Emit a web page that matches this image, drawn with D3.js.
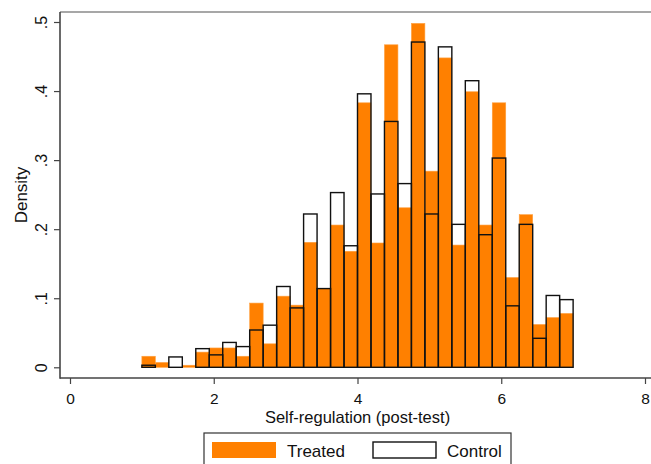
<!DOCTYPE html>
<html>
<head>
<meta charset="utf-8">
<script src="https://cdn.jsdelivr.net/npm/d3@7"></script>
<style>
  html, body { margin: 0; padding: 0; background: #fff; }
  svg { display: block; font-family: Arial, "Liberation Sans", sans-serif; }
</style>
</head>
<body>
<svg id="chart" width="651" height="464"></svg>
<script>
// ---- data (density per bin; 32 bins from 1 to 7) ----
const binStart = 1;
const binWidth = 0.1875;
const treated = [0.016, 0.007, 0, 0.003, 0.022, 0.028, 0.028, 0.016,
                 0.093, 0.034, 0.103, 0.090, 0.181, 0.114, 0.206, 0.168,
                 0.383, 0.180, 0.467, 0.231, 0.498, 0.284, 0.448, 0.177,
                 0.399, 0.206, 0.383, 0.130, 0.221, 0.062, 0.072, 0.078];
const control = [0.003, 0, 0.015, 0, 0.027, 0.018, 0.036, 0.030,
                 0.054, 0.061, 0.117, 0.086, 0.222, 0.114, 0.253, 0.176,
                 0.396, 0.251, 0.356, 0.266, 0.471, 0.222, 0.464, 0.207,
                 0.415, 0.192, 0.303, 0.089, 0.207, 0.042, 0.104, 0.098];
const xTicks = [0, 2, 4, 6, 8];
const yTicks = [0, 0.1, 0.2, 0.3, 0.4, 0.5];
const yTickLabels = ["0", ".1", ".2", ".3", ".4", ".5"];
const xTitle = "Self-regulation (post-test)";
const yTitle = "Density";
const legendLabels = ["Treated", "Control"];

const orange = "#ff8000";
const svg = d3.select("#chart");
const x = d3.scaleLinear().domain([0, 8]).range([70, 645]);
const y = d3.scaleLinear().domain([0, 0.5]).range([367.3, 22]);
const axisLeftX = 60, axisBottomY = 378, plotTop = 12, plotRight = 651;

svg.append("rect").attr("width", 651).attr("height", 464).attr("fill", "#fff");

// top border of plot region
svg.append("line").attr("x1", axisLeftX).attr("x2", plotRight)
  .attr("y1", plotTop).attr("y2", plotTop)
  .attr("stroke", "#8a8a8a").attr("stroke-width", 1.6);

const binsT = treated.map((v, i) => ({ x0: binStart + i * binWidth, x1: binStart + (i + 1) * binWidth, v }));
const binsC = control.map((v, i) => ({ x0: binStart + i * binWidth, x1: binStart + (i + 1) * binWidth, v }));

// treated bars
svg.append("g").selectAll("rect").data(binsT.filter(d => d.v > 0)).join("rect")
  .attr("x", d => x(d.x0))
  .attr("width", d => x(d.x1) - x(d.x0))
  .attr("y", d => y(d.v))
  .attr("height", d => y(0) - y(d.v))
  .attr("fill", orange)
  .attr("stroke", "#ffa040").attr("stroke-width", 0.6);

// control outlines
svg.append("g").selectAll("rect").data(binsC.filter(d => d.v > 0)).join("rect")
  .attr("x", d => x(d.x0))
  .attr("width", d => x(d.x1) - x(d.x0))
  .attr("y", d => y(d.v))
  .attr("height", d => y(0) - y(d.v))
  .attr("fill", "none")
  .attr("stroke", "#111").attr("stroke-width", 1.4);

// axes
const gx = svg.append("g").attr("transform", `translate(0,${axisBottomY})`)
  .call(d3.axisBottom(x).tickValues(xTicks).tickSize(6).tickFormat(d3.format("d")));
gx.select(".domain").remove();
gx.selectAll(".tick line").attr("stroke", "#444").attr("stroke-width", 1.2);
gx.selectAll(".tick text").attr("font-size", 15.5).attr("fill", "#111")
  .attr("dy", null).attr("y", 26);

const gy = svg.append("g").attr("transform", `translate(${axisLeftX},0)`)
  .call(d3.axisLeft(y).tickValues(yTicks).tickSize(6).tickFormat((d, i) => yTickLabels[i]));
gy.select(".domain").remove();
gy.selectAll(".tick line").attr("stroke", "#444").attr("stroke-width", 1.2);
gy.selectAll(".tick text")
  .attr("x", null).attr("dy", null)
  .attr("font-size", 16).attr("fill", "#111")
  .attr("text-anchor", "middle")
  .attr("transform", "translate(-13,0) rotate(-90)");

svg.append("line").attr("x1", axisLeftX).attr("x2", axisLeftX)
  .attr("y1", plotTop).attr("y2", axisBottomY + 0.7)
  .attr("stroke", "#444").attr("stroke-width", 1.6);
svg.append("line").attr("x1", axisLeftX).attr("x2", plotRight)
  .attr("y1", axisBottomY).attr("y2", axisBottomY)
  .attr("stroke", "#444").attr("stroke-width", 1.6);

// titles
svg.append("text").attr("x", 357.5).attr("y", 422.5)
  .attr("text-anchor", "middle").attr("font-size", 16.5).attr("fill", "#111")
  .text(xTitle);
svg.append("text").attr("transform", "translate(27,195) rotate(-90)")
  .attr("text-anchor", "middle").attr("font-size", 17).attr("fill", "#111")
  .text(yTitle);

// legend
const lg = svg.append("g");
lg.append("rect").attr("x", 204).attr("y", 433).attr("width", 307).attr("height", 40)
  .attr("fill", "#fff").attr("stroke", "#333").attr("stroke-width", 1.2);
lg.append("rect").attr("x", 212).attr("y", 442).attr("width", 64).attr("height", 16)
  .attr("fill", orange);
lg.append("text").attr("x", 287).attr("y", 457).attr("font-size", 17).attr("fill", "#111")
  .text(legendLabels[0]);
lg.append("rect").attr("x", 373).attr("y", 442).attr("width", 63).attr("height", 16)
  .attr("fill", "#fff").attr("stroke", "#111").attr("stroke-width", 1.4);
lg.append("text").attr("x", 447).attr("y", 457).attr("font-size", 17).attr("fill", "#111")
  .text(legendLabels[1]);
</script>
</body>
</html>
